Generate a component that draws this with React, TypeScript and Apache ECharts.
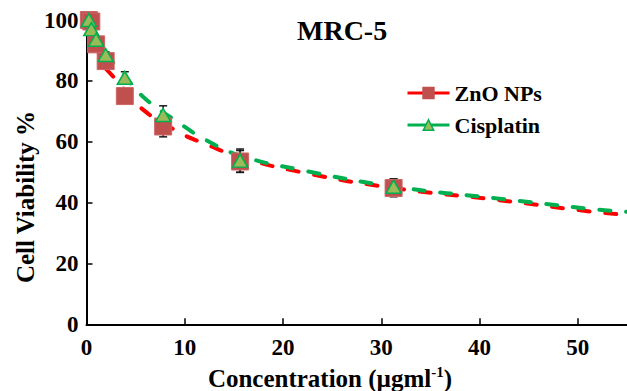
import { useEffect, useRef } from "react";
import * as echarts from "echarts";

// Concentrations tested (µg/ml) and mean viability (%) with error
const concentrations = [0.24, 0.49, 0.98, 1.95, 3.9, 7.8, 15.63, 31.25];
const znoViability = [100, 99.5, 92, 86.5, 75, 65, 53.5, 44.8];
const znoError = [0.5, 0.5, 1, 1, 1.5, 3.4, 3.6, 2.9];
const cisViability = [100, 97, 93.5, 88.5, 81, 68.8, 53.8, 45.2];
const cisError = [0.5, 0.8, 1, 1, 2, 3, 3.8, 2.6];

// Fitted trend curves (dashed)
const znoTrendX = [1.95, 3.05, 5.4, 9.3, 12, 15.6, 21.7, 31.25, 42, 52, 55];
const znoTrendY = [84, 80.2, 71.5, 63.3, 59.4, 55, 50.1, 44.8, 40.8, 36.8, 36];
const cisTrendX = [1.95, 3.56, 5.75, 9.5, 12.2, 15.6, 21.7, 31.25, 42, 52, 55];
const cisTrendY = [88.5, 83, 74.8, 66, 60.5, 55.5, 50.8, 45.3, 41.3, 37.7, 37];

const xTicks = [0, 10, 20, 30, 40, 50];
const yTicks = [0, 20, 40, 60, 80, 100];

const FONT = "'Liberation Serif', 'Times New Roman', serif";
const RED = "#FF0000";
const GREEN = "#00B050";
const SQUARE_FILL = "#C0504D";
const TRIANGLE_FILL = "#9BBB59";

function pairs(xs: number[], ys: number[]) {
  return xs.map((x, i) => [x, ys[i]]);
}

function errorBars(name: string, values: number[], errors: number[]) {
  return {
    name: name + " error",
    type: "custom",
    silent: true,
    z: 1,
    data: concentrations.map((c, i) => [c, values[i] - errors[i], values[i] + errors[i]]),
    encode: { x: 0, y: [1, 2] },
    renderItem: (_params: any, api: any) => {
      const x = api.value(0);
      const lo = api.coord([x, api.value(1)]);
      const hi = api.coord([x, api.value(2)]);
      const w = 4;
      const style = { stroke: "#1a1a1a", lineWidth: 1.5 };
      return {
        type: "group",
        children: [
          { type: "line", shape: { x1: lo[0], y1: lo[1], x2: hi[0], y2: hi[1] }, style },
          { type: "line", shape: { x1: lo[0] - w, y1: lo[1], x2: lo[0] + w, y2: lo[1] }, style },
          { type: "line", shape: { x1: hi[0] - w, y1: hi[1], x2: hi[0] + w, y2: hi[1] }, style },
        ],
      };
    },
  };
}

export default function App() {
  const ref = useRef<HTMLDivElement>(null);

  useEffect(() => {
    document.body.style.margin = "0";
    document.body.style.overflow = "hidden";
    const chart = echarts.init(ref.current!, undefined, { renderer: "svg" });
    const axisText = { color: "#000", fontFamily: FONT, fontWeight: "bold" as const, fontSize: 23 };
    const titleFont = `bold 25px ${FONT}`;

    chart.setOption({
      animation: false,
      backgroundColor: "#fff",
      title: {
        text: "MRC-5",
        left: 292,
        top: 11,
        textStyle: { color: "#000", fontFamily: FONT, fontWeight: "bold", fontSize: 28 },
      },
      legend: {
        orient: "vertical",
        left: 406,
        top: 82,
        padding: 0,
        itemWidth: 42,
        itemHeight: 13,
        itemGap: 10,
        textStyle: { color: "#000", fontFamily: FONT, fontWeight: "bold", fontSize: 22 },
        data: [
          {
            name: "ZnO NPs",
            lineStyle: { color: RED, width: 3, opacity: 1, type: "solid" },
            itemStyle: { color: SQUARE_FILL, borderColor: SQUARE_FILL },
          },
          {
            name: "Cisplatin",
            lineStyle: { color: GREEN, width: 3, opacity: 1, type: "solid" },
            itemStyle: { color: TRIANGLE_FILL, borderColor: GREEN, borderWidth: 1.5 },
          },
        ],
      },
      graphic: [
        {
          type: "text",
          silent: true,
          style: {
            text: "Concentration (µgml{sup|-1})",
            x: 330,
            y: 378,
            align: "center",
            verticalAlign: "middle",
            font: titleFont,
            fill: "#000",
            rich: {
              sup: { font: `bold 15px ${FONT}`, fill: "#000", verticalAlign: "top", padding: [0, 0, 12, 0] },
            },
          },
        },
        {
          type: "text",
          silent: true,
          x: 25,
          y: 197,
          rotation: Math.PI / 2,
          style: {
            text: "Cell Viability %",
            x: 0,
            y: 0,
            align: "center",
            verticalAlign: "middle",
            font: titleFont,
            fill: "#000",
          },
        },
      ],
      grid: { left: 86.5, right: 0, top: 20, bottom: 66.7 },
      xAxis: {
        type: "value",
        min: 0,
        max: 55,
        interval: 10,
        axisLine: { show: true, lineStyle: { color: "#000", width: 2 } },
        axisTick: { show: true, inside: true, length: 6, lineStyle: { color: "#000", width: 1.5 } },
        axisLabel: {
          ...axisText,
          margin: 12,
          showMaxLabel: false,
          formatter: (v: number) => (xTicks.includes(v) ? String(v) : ""),
        },
        splitLine: { show: false },
      },
      yAxis: {
        type: "value",
        min: 0,
        max: 100,
        interval: 20,
        axisLine: { show: true, lineStyle: { color: "#000", width: 2 } },
        axisTick: { show: true, inside: true, length: 6, lineStyle: { color: "#000", width: 1.5 } },
        axisLabel: {
          ...axisText,
          margin: 8,
          formatter: (v: number) => (yTicks.includes(v) ? String(v) : ""),
        },
        splitLine: { show: false },
      },
      series: [
        errorBars("ZnO NPs", znoViability, znoError),
        errorBars("Cisplatin", cisViability, cisError),
        {
          name: "ZnO NPs trend",
          type: "line",
          smooth: true,
          symbol: "none",
          z: 2,
          silent: true,
          data: pairs(znoTrendX, znoTrendY),
          lineStyle: { color: RED, width: 4, type: [11, 15.7], cap: "round" },
        },
        {
          name: "Cisplatin trend",
          type: "line",
          smooth: true,
          symbol: "none",
          z: 3,
          silent: true,
          data: pairs(cisTrendX, cisTrendY),
          lineStyle: { color: GREEN, width: 4, type: [11, 15.7], cap: "round" },
        },
        {
          name: "ZnO NPs",
          type: "line",
          z: 4,
          symbol: "rect",
          symbolSize: 17,
          data: pairs(concentrations, znoViability),
          lineStyle: { width: 0, opacity: 0 },
          itemStyle: { color: SQUARE_FILL, borderColor: "#CC6666", borderWidth: 1, opacity: 1 },
        },
        {
          name: "Cisplatin",
          type: "line",
          z: 5,
          symbol: "triangle",
          symbolSize: [15, 13],
          data: pairs(concentrations, cisViability),
          lineStyle: { width: 0, opacity: 0 },
          itemStyle: { color: TRIANGLE_FILL, borderColor: GREEN, borderWidth: 1.5, opacity: 1 },
        },
      ],
    });

    return () => chart.dispose();
  }, []);

  return <div ref={ref} style={{ width: 627, height: 391 }} />;
}
